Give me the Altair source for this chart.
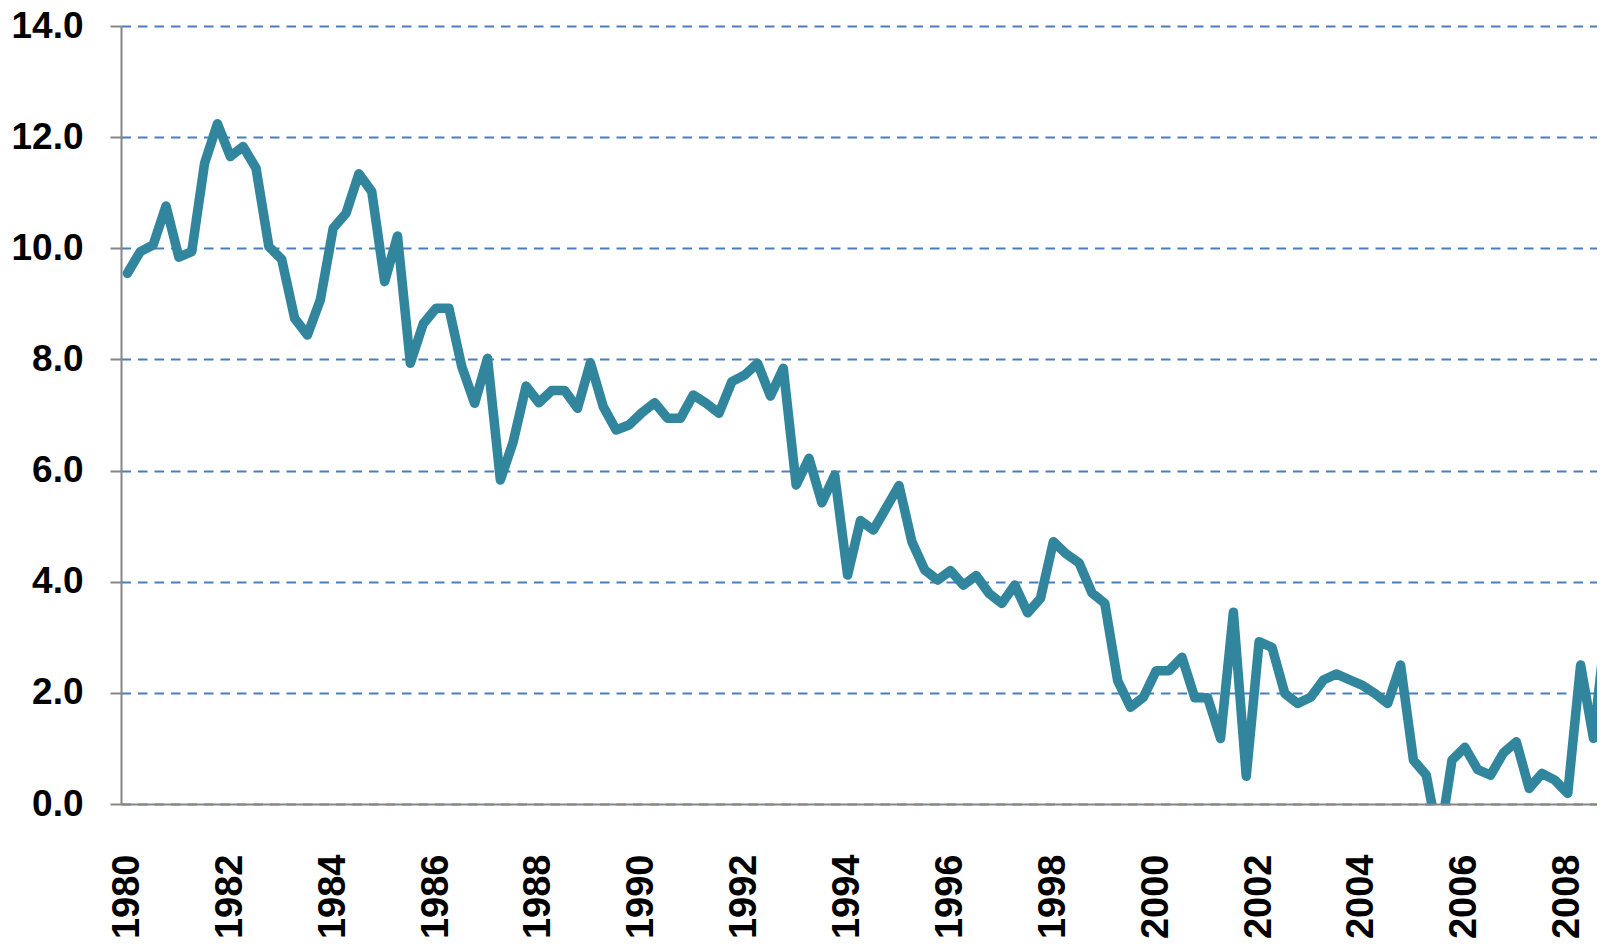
import altair as alt
import pandas as pd

# Quarterly series, first quarter of 1980 onward
start_year = 1980
values = [
    9.55, 9.94, 10.06, 10.76, 9.84, 9.94, 11.53, 12.24,
    11.65, 11.83, 11.44, 10.03, 9.80, 8.74, 8.44, 9.07,
    10.36, 10.63, 11.34, 11.02, 9.40, 10.22, 7.93, 8.64,
    8.92, 8.92, 7.87, 7.21, 8.02, 5.83, 6.52, 7.52,
    7.22, 7.44, 7.44, 7.12, 7.94, 7.15, 6.73, 6.82,
    7.04, 7.22, 6.94, 6.94, 7.36, 7.21, 7.03, 7.60,
    7.72, 7.93, 7.34, 7.84, 5.74, 6.22, 5.42, 5.92,
    4.12, 5.10, 4.93, 5.33, 5.73, 4.72, 4.21, 4.03,
    4.20, 3.94, 4.11, 3.79, 3.61, 3.94, 3.44, 3.70,
    4.72, 4.50, 4.34, 3.80, 3.61, 2.22, 1.74, 1.92,
    2.40, 2.40, 2.64, 1.91, 1.91, 1.18, 3.45, 0.50,
    2.92, 2.82, 1.99, 1.81, 1.92, 2.23, 2.34, 2.24,
    2.14, 1.99, 1.81, 2.50, 0.79, 0.52, -0.70, 0.79,
    1.02, 0.62, 0.52, 0.92, 1.12, 0.28, 0.55, 0.43,
    0.19, 2.50, 1.18, 3.25,
]
label_years = list(range(1980, 2010, 2))
y_ticks = [0, 2, 4, 6, 8, 10, 12, 14]

df = pd.DataFrame({"q": list(range(len(values))), "value": values})
label_positions = [(y - start_year) * 4 for y in label_years]

PLOT_W = 1476
PLOT_H = 778
QUARTER_PX = 12.86

x_axis = alt.Axis(
    values=label_positions,
    labelExpr=f"'' + ({start_year} + datum.value / 4)",
    labelAngle=270,
    labelFont="Liberation Sans",
    labelFontWeight="bold",
    labelFontSize=38,
    labelColor="#000000",
    labelPadding=50,
    ticks=False,
    tickSize=0,
    domainColor="#868686",
    domainWidth=2,
    grid=False,
    title=None,
    zindex=1,
    labelOverlap=False,
)

y_axis = alt.Axis(
    values=y_ticks,
    format=".1f",
    labelFont="Liberation Sans",
    labelFontWeight="bold",
    labelFontSize=37,
    labelColor="#000000",
    labelPadding=27,
    tickSize=11,
    tickColor="#868686",
    tickWidth=2,
    domainColor="#868686",
    domainWidth=2,
    grid=True,
    gridColor="#4A7EBB",
    gridDash=[9.5, 7],
    gridWidth=2,
    title=None,
    labelOverlap=False,
)

chart = (
    alt.Chart(df)
    .mark_line(
        color="#31859C",
        strokeWidth=9.5,
        strokeJoin="round",
        strokeCap="round",
        clip=True,
    )
    .encode(
        x=alt.X(
            "q:Q",
            scale=alt.Scale(domain=[-0.5, -0.5 + PLOT_W / QUARTER_PX], nice=False, zero=False),
            axis=x_axis,
        ),
        y=alt.Y(
            "value:Q",
            scale=alt.Scale(domain=[0, 14], nice=False, zero=True),
            axis=y_axis,
        ),
    )
    .properties(
        width=PLOT_W,
        height=PLOT_H,
        padding={"left": 113, "top": 18, "right": 0, "bottom": 135},
        autosize=alt.AutoSizeParams(type="none"),
        background="white",
    )
    .configure_view(stroke=None)
)

chart.save("out.html", embed_options={"renderer": "svg", "actions": False})
